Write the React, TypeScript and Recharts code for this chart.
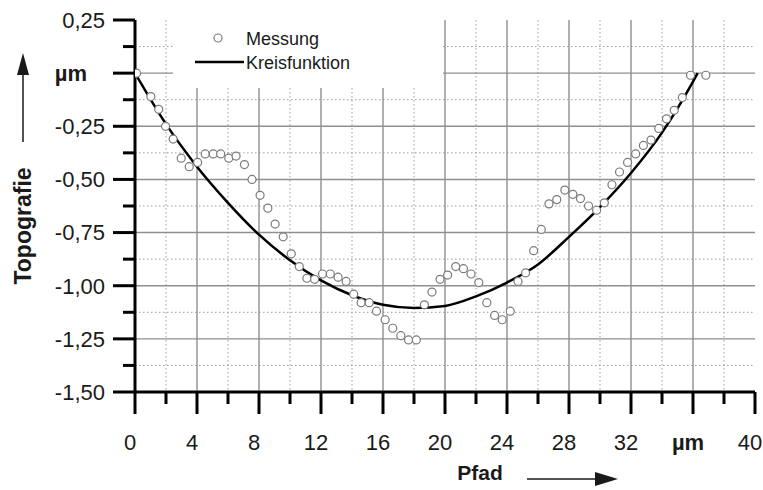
import { ComposedChart, XAxis, YAxis, CartesianGrid, Scatter, Line, Legend } from 'recharts';

const messungX = [
  0.1, 1.02, 1.53, 1.97, 2.46, 2.98, 3.5, 4.04, 4.53, 5.05, 5.53, 6.05, 6.52, 7.06, 7.55, 8.07, 8.57, 9.04,
  9.56, 10.08, 10.6, 11.09, 11.59, 12.1, 12.6, 13.1, 13.62, 14.11, 14.59, 15.11, 15.58, 16.14, 16.63, 17.15,
  17.65, 18.15, 18.67, 19.16, 19.68, 20.17, 20.69, 21.19, 21.68, 22.18, 22.7, 23.2, 23.69, 24.21, 24.71,
  25.2, 25.72, 26.21, 26.71, 27.21, 27.73, 28.25, 28.74, 29.26, 29.78, 30.28, 30.77, 31.26, 31.78, 32.3,
  32.8, 33.29, 33.79, 34.29, 34.79, 35.31, 35.84, 36.83,
];
const messungY = [
  0.0, -0.11, -0.17, -0.25, -0.31, -0.4, -0.44, -0.42, -0.38, -0.38, -0.38, -0.4, -0.39, -0.43, -0.5, -0.575,
  -0.635, -0.71, -0.77, -0.85, -0.91, -0.965, -0.97, -0.945, -0.945, -0.96, -0.98, -1.04, -1.08, -1.08, -1.12,
  -1.16, -1.2, -1.235, -1.255, -1.255, -1.09, -1.03, -0.97, -0.95, -0.91, -0.92, -0.945, -0.985, -1.08, -1.14,
  -1.16, -1.12, -0.98, -0.94, -0.835, -0.735, -0.615, -0.595, -0.55, -0.57, -0.59, -0.625, -0.645, -0.61,
  -0.525, -0.465, -0.42, -0.38, -0.34, -0.315, -0.26, -0.215, -0.175, -0.115, -0.01, -0.01,
];

// Kreisfunktion (fitted circle)
const kreisX = [0, 2, 4, 6, 8, 10, 12, 14, 16, 18, 20, 22, 24, 26, 28, 30, 32, 34, 36, 36.3];
const kreisY = [
  0, -0.24, -0.44, -0.61, -0.76, -0.88, -0.975, -1.045, -1.09, -1.105, -1.095, -1.05, -0.985, -0.9, -0.77,
  -0.63, -0.47, -0.28, -0.04, 0,
];

const xTicks = [0, 2, 4, 6, 8, 10, 12, 14, 16, 18, 20, 22, 24, 26, 28, 30, 32, 34, 36, 38, 40];
const yTicks = [0.25, 0.125, 0, -0.125, -0.25, -0.375, -0.5, -0.625, -0.75, -0.875, -1, -1.125, -1.25, -1.375, -1.5];
const xMajorGrid = [4, 8, 12, 16, 20, 24, 28, 32, 36];
const xMinorGrid = [2, 6, 10, 14, 18, 22, 26, 30, 34, 38];
const yMajorGrid = [0, -0.25, -0.5, -0.75, -1, -1.25];
const yMinorGrid = [0.125, -0.125, -0.375, -0.625, -0.875, -1.125, -1.375];

const messung = messungX.map((x, i) => ({ x, y: messungY[i] }));
const kreis = kreisX.map((x, i) => ({ x, y: kreisY[i] }));

const FONT = '"Liberation Sans", Arial, sans-serif';
const TEXT = '#1a1a1a';

const isMajor = (v: number, step: number) => Math.abs(v / step - Math.round(v / step)) < 1e-6;

const XTick = (props: any) => {
  const { x, y, payload } = props;
  const v = payload.value;
  const major = isMajor(v, 4);
  return (
    <g>
      <line x1={x} y1={y} x2={x} y2={y + (major ? 22 : 12)} stroke="#000" strokeWidth={3} />
      {major && (
        <text x={x - 5} y={y + 58} textAnchor="middle" fontSize={22} fontFamily={FONT} fill={TEXT}
          fontWeight={v === 36 ? 'bold' : 'normal'}>
          {v === 36 ? 'µm' : v}
        </text>
      )}
    </g>
  );
};

const YTick = (props: any) => {
  const { x, y, payload } = props;
  const v = payload.value;
  const major = isMajor(v, 0.25);
  const label = v === 0 ? 'µm' : v.toFixed(2).replace('.', ',');
  return (
    <g>
      <line x1={x - (major ? 22 : 12)} y1={y} x2={x} y2={y} stroke="#000" strokeWidth={3} />
      {major && (
        <text x={v === 0 ? x - 48 : x - 30} y={y} dy="0.36em" textAnchor="end" fontSize={22} fontFamily={FONT}
          fill={TEXT} fontWeight={v === 0 ? 'bold' : 'normal'}>
          {label}
        </text>
      )}
    </g>
  );
};

const YLabel = () => (
  <g>
    <line x1={23} y1={142} x2={23} y2={72} stroke={TEXT} strokeWidth={1.5} />
    <polygon points="23,53 17,75 29,75" fill={TEXT} />
    <text x={23} y={226} transform="rotate(-90, 23, 226)" textAnchor="middle" dy="0.36em" fontSize={23}
      fontWeight="bold" fontFamily={FONT} fill={TEXT}>
      Topografie
    </text>
  </g>
);

const XLabel = () => (
  <g>
    <text x={480} y={480} textAnchor="middle" fontSize={21} fontWeight="bold" fontFamily={FONT} fill={TEXT}>
      Pfad
    </text>
    <line x1={527} y1={479} x2={598} y2={479} stroke={TEXT} strokeWidth={1.5} />
    <polygon points="618,479 595,472 595,486" fill={TEXT} />
  </g>
);

const renderLegend = () => (
  <svg width={270} height={88} style={{ display: 'block' }}>
    <circle cx={45} cy={38} r={4} fill="#fff" stroke="#7a7a7a" strokeWidth={1.2} />
    <text x={73} y={45} fontSize={18} fontFamily={FONT} fill={TEXT}>Messung</text>
    <line x1={22} y1={62} x2={71} y2={62} stroke="#000" strokeWidth={2.5} />
    <text x={73} y={69} fontSize={18} fontFamily={FONT} fill={TEXT}>Kreisfunktion</text>
  </svg>
);

export default function App() {
  return (
    <div style={{ position: 'absolute', left: 0, top: 0, background: '#fff' }}>
      <ComposedChart width={763} height={490} margin={{ top: 20, right: 8, bottom: 0, left: 0 }}>
        <CartesianGrid horizontalValues={yMinorGrid} verticalValues={xMinorGrid} stroke="#9c9c9c"
          strokeDasharray="1.5 2.5" strokeWidth={1} fill="none" />
        <CartesianGrid horizontalValues={yMajorGrid} verticalValues={xMajorGrid} stroke="#8f8f8f"
          strokeWidth={1.4} fill="none" />
        <XAxis type="number" dataKey="x" domain={[0, 40]} ticks={xTicks} interval={0} height={98}
          tick={<XTick />} tickLine={false} tickSize={0} tickMargin={0}
          axisLine={{ stroke: '#000', strokeWidth: 3 }} allowDataOverflow />
        <YAxis type="number" domain={[-1.5, 0.25]} ticks={yTicks} interval={0} width={135}
          tick={<YTick />} tickLine={false} tickSize={0} tickMargin={0}
          axisLine={{ stroke: '#000', strokeWidth: 3 }} allowDataOverflow />
        <Legend layout="vertical" align="center" verticalAlign="middle" content={renderLegend}
          wrapperStyle={{ left: 173, top: 0, width: 270, height: 88, backgroundColor: '#fff' }} />
        <Scatter data={messung} dataKey="y" isAnimationActive={false} legendType="none"
          shape={(p: any) => <circle cx={p.cx} cy={p.cy} r={4} fill="#fff" stroke="#7a7a7a" strokeWidth={1.2} />} />
        <Line data={kreis} dataKey="y" type="monotone" stroke="#000" strokeWidth={2.5} dot={false}
          isAnimationActive={false} />
      </ComposedChart>
      <svg width={763} height={490} style={{ position: 'absolute', left: 0, top: 0, pointerEvents: 'none' }}>
        <YLabel />
        <XLabel />
      </svg>
    </div>
  );
}
